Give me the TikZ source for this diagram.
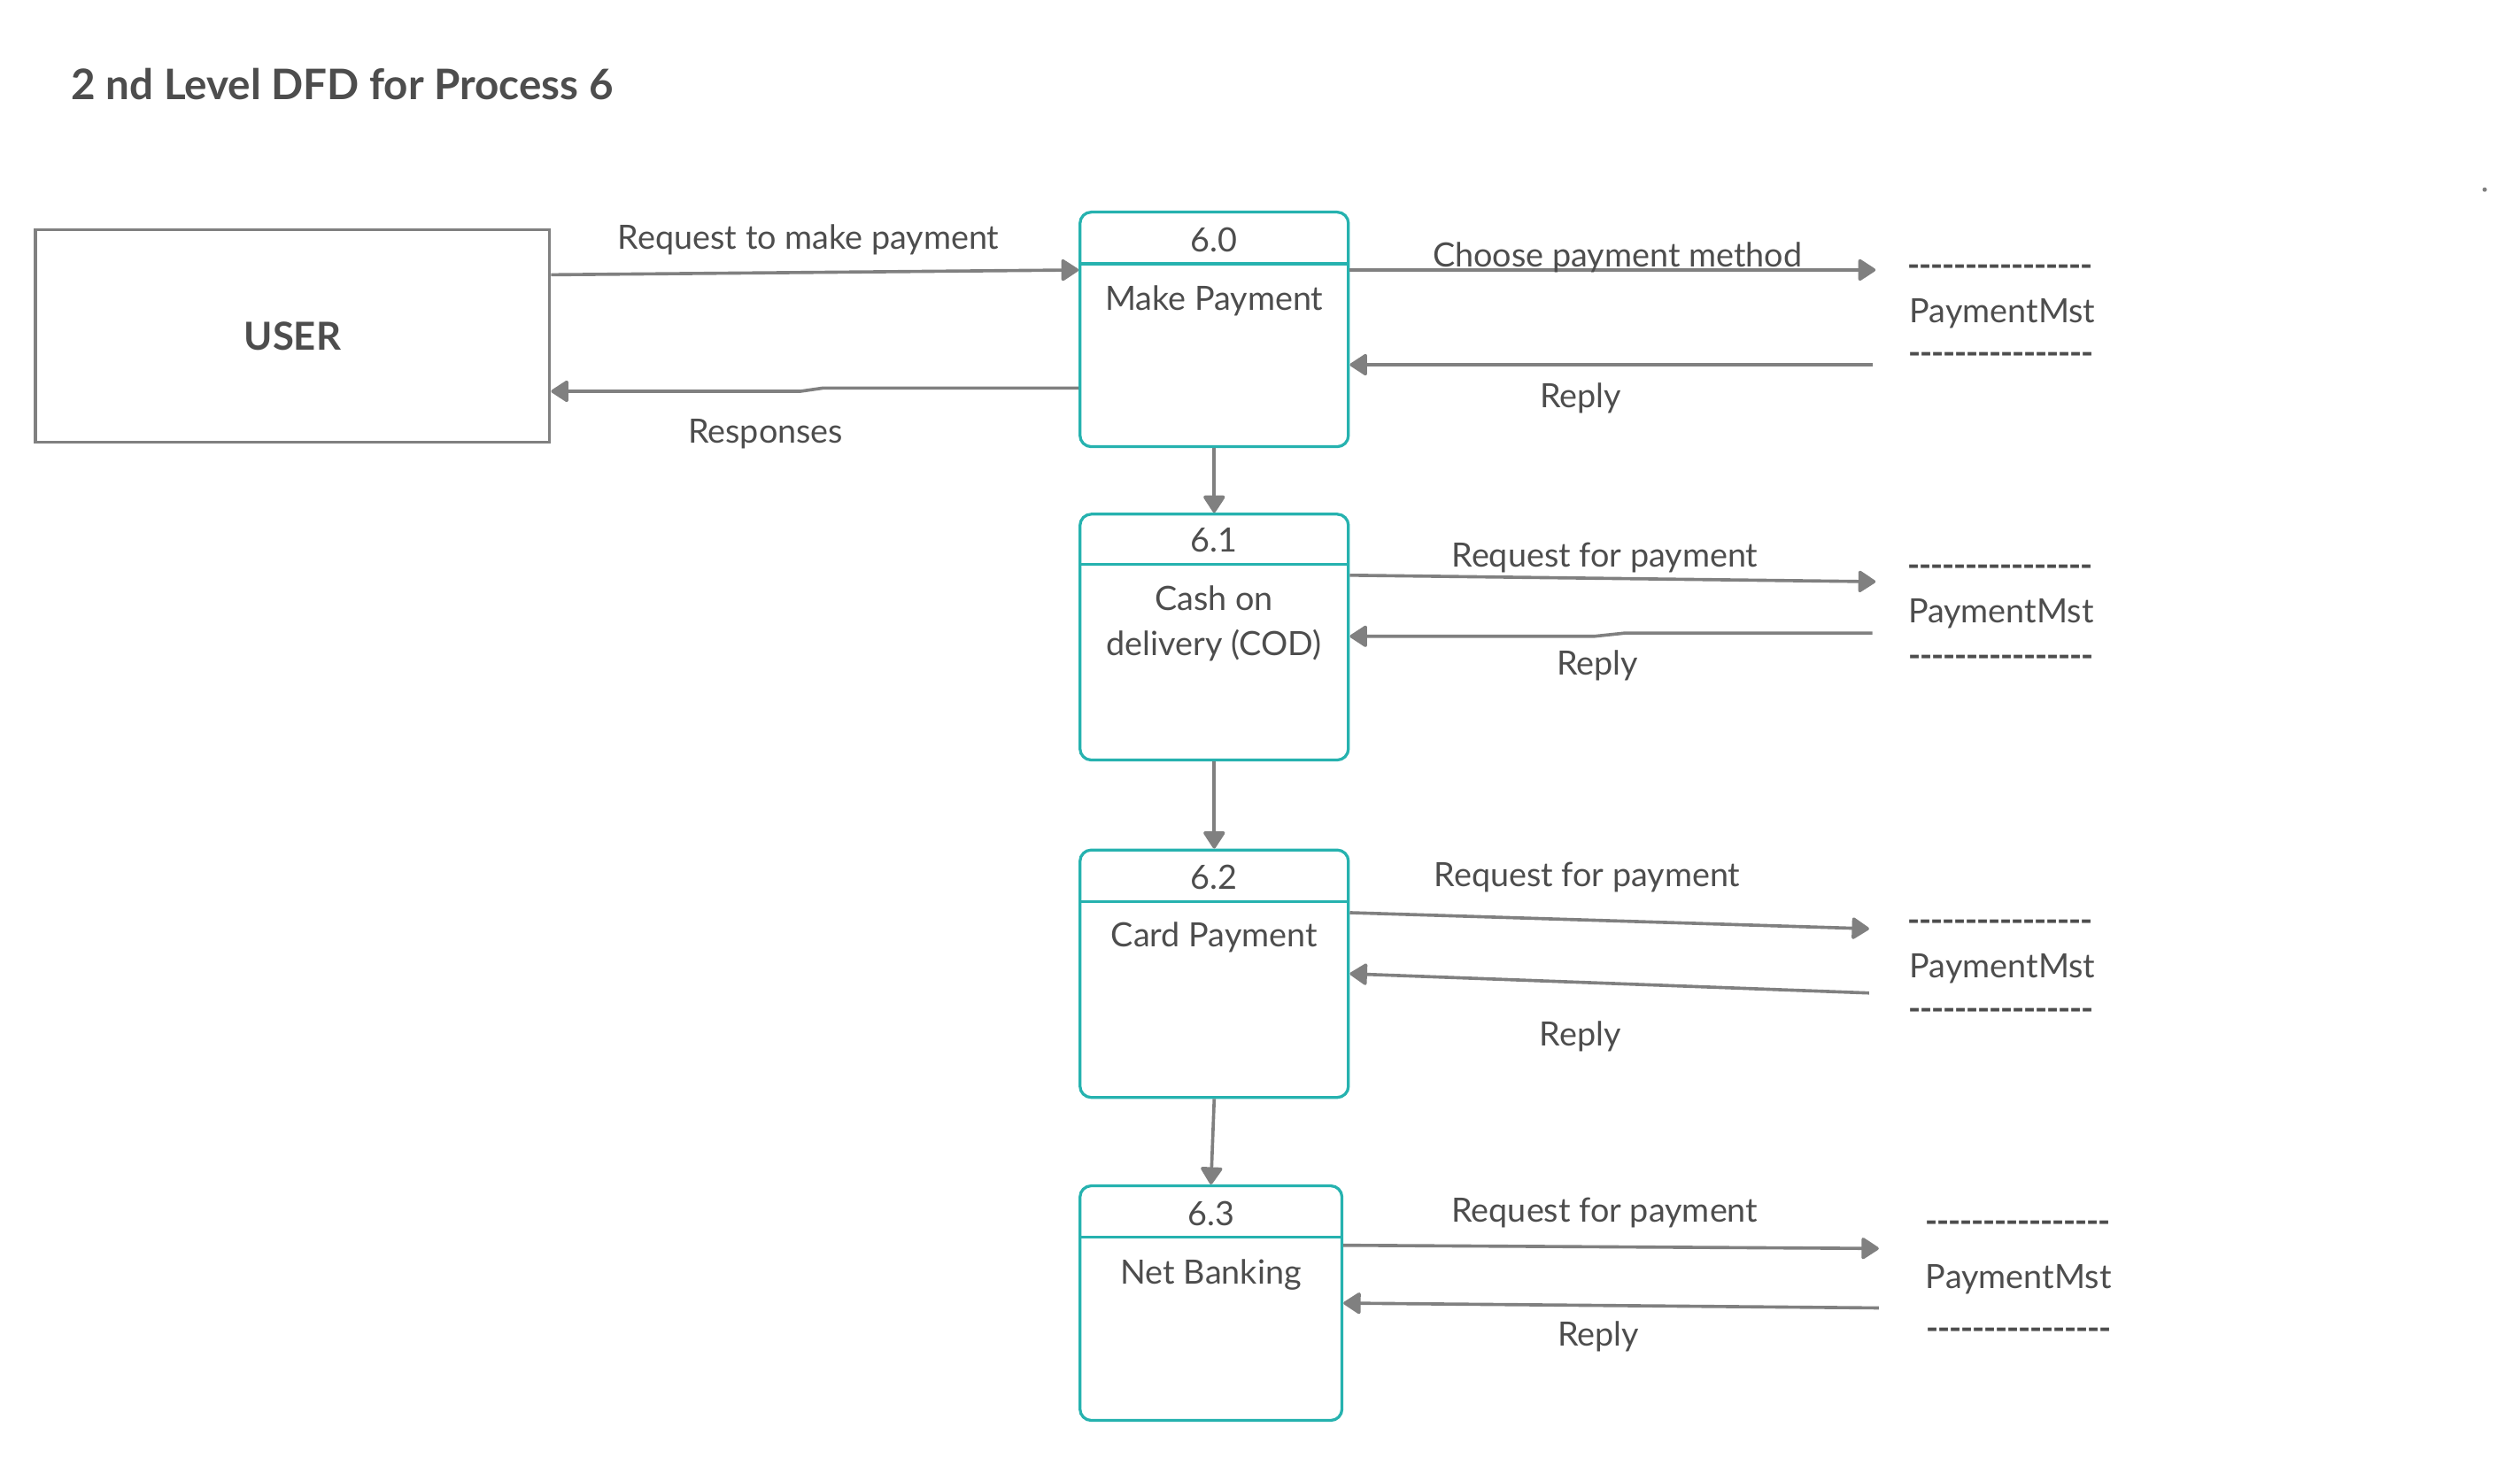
\documentclass[tikz,border=0pt]{standalone}
\usepackage{fontspec}
\setmainfont{Lato}
\usepackage{tikz}
\usetikzlibrary{arrows.meta,calc,positioning}

\definecolor{dfdteal}{RGB}{38,178,175}
\definecolor{dfdgray}{RGB}{128,128,128}
\definecolor{dfdtext}{RGB}{77,77,77}
\newcommand{\storedash}{{\bfseries\foreach \i in {1,...,16}{-\kern-0.3pt}}}

\begin{document}
\begin{tikzpicture}[x=0.5pt,y=-0.5pt,>={Triangle[length=5.8pt,width=7.3pt,round]}]
	\tikzstyle{process} = [draw=dfdteal, line width=0.9pt, rounded corners=3.5pt, minimum width=83.5pt]
	\tikzstyle{entity} = [draw=dfdgray, line width=0.9pt, text=dfdtext, inner sep=0pt, minimum width=160pt, minimum height=66pt]
	\tikzstyle{txt} = [text=dfdtext, inner sep=0pt, font=\fontsize{10.4}{14}\selectfont, yshift=-1pt]
	\tikzstyle{flow} = [draw=dfdgray, line width=1pt]
	\useasboundingbox (0,0) rectangle (1568,907);

	\node [txt, anchor=west, font=\fontsize{13.1}{15}\selectfont\bfseries] (title) at (44,50.5) {2 nd Level DFD for Process 6};

	% external entity
	\node [entity, font=\fontsize{12}{14}\selectfont\bfseries] (user) at (182,209) {USER};

	% processes
	\node [process, minimum height=73pt] (p60) at (755.5,205) {};
	\node [process, minimum height=76.5pt] (p61) at (755.5,396.5) {};
	\node [process, minimum height=77pt] (p62) at (755.5,606) {};
	\node [process, minimum height=73pt, minimum width=81.5pt] (p63) at (753.5,811) {};

	\draw [dfdteal, line width=0.9pt] ([yshift=-16.5pt]p60.north west) -- ([yshift=-16.5pt]p60.north east);
	\draw [dfdteal, line width=0.9pt] ([yshift=-16pt]p61.north west) -- ([yshift=-16pt]p61.north east);
	\draw [dfdteal, line width=0.9pt] ([yshift=-16.5pt]p62.north west) -- ([yshift=-16.5pt]p62.north east);
	\draw [dfdteal, line width=0.9pt] ([yshift=-16.5pt]p63.north west) -- ([yshift=-16.5pt]p63.north east);

	\node [txt] (n60) at ([yshift=-8pt]p60.north) {6.0};
	\node [txt] (n61) at ([yshift=-7.5pt]p61.north) {6.1};
	\node [txt] (n62) at ([yshift=-8pt]p62.north) {6.2};
	\node [txt] (n63) at ([yshift=-8pt]p63.north) {6.3};

	\node [txt] (t60) at ([yshift=-27pt]p60.north) {Make Payment};
	\node [txt, align=center] (t61) at ([yshift=-33.5pt]p61.north) {Cash on\\delivery (COD)};
	\node [txt] (t62) at ([yshift=-26.5pt]p62.north) {Card Payment};
	\node [txt] (t63) at ([yshift=-27pt]p63.north) {Net Banking};

	% data stores
	\node [txt] (pm0) at (1246,193) {PaymentMst};
	\node [txt] (pm0top) at (1244.5,166.3) {\storedash};
	\node [txt] (pm0bot) at (1245,221.3) {\storedash};
	\node [txt] (pm1) at (1245,380) {PaymentMst};
	\node [txt] (pm1top) at (1244.5,353.3) {\storedash};
	\node [txt] (pm1bot) at (1245,409.3) {\storedash};
	\node [txt] (pm2) at (1246,601) {PaymentMst};
	\node [txt] (pm2top) at (1244.5,574.3) {\storedash};
	\node [txt] (pm2bot) at (1245,629.3) {\storedash};
	\node [txt] (pm3) at (1256,794) {PaymentMst};
	\node [txt] (pm3top) at (1255.5,761.3) {\storedash};
	\node [txt] (pm3bot) at (1256,828.3) {\storedash};

	% free ends at the stores
	\node [coordinate] (s0out) at (1167,168) {};
	\node [coordinate] (s0in) at (1165,227) {};
	\node [coordinate] (s1out) at (1167,362) {};
	\node [coordinate] (s1in) at (1165,394) {};
	\node [coordinate] (s2out) at (1163,578) {};
	\node [coordinate] (s2in) at (1163,618) {};
	\node [coordinate] (s3out) at (1169,777) {};
	\node [coordinate] (s3in) at (1169,814) {};

	% flows user <-> 6.0
	\draw [flow, ->] ([yshift=19pt]user.east) --node[txt, pos=0.488, yshift=11.25pt]{Request to make payment} ([yshift=18.5pt]p60.west);
	\draw [flow, ->] ([yshift=-18.25pt]p60.west) -- ++(-159,0) -- ++(-14,2) --node[txt, pos=0.14, yshift=-12.25pt]{Responses} ([yshift=-17.25pt]user.east);

	% flows process -> process
	\draw [flow, ->] (p60.south) -- (p61.north);
	\draw [flow, ->] (p61.south) -- (p62.north);
	\draw [flow, ->] (p62.south) -- (p63.north);

	% flows process <-> store
	\draw [flow, ->] ([yshift=18.5pt]p60.east) --node[txt, pos=0.509, yshift=5pt]{Choose payment method} (s0out);
	\draw [flow, ->] (s0in) --node[txt, pos=0.558, yshift=-9.5pt]{Reply} ([yshift=-11pt]p60.east);

	\draw [flow, ->] ([yshift=19.25pt]p61.east) --node[txt, pos=0.485, yshift=7.5pt]{Request for payment} (s1out);
	\draw [flow, ->] (s1in) -- ++(-154,0) --node[txt, pos=0.895, yshift=-8.1pt]{Reply} ++(-19,2) -- ([yshift=0.25pt]p61.east);

	\draw [flow, ->] ([yshift=19pt]p62.east) --node[txt, pos=0.457, yshift=14.3pt]{Request for payment} (s2out);
	\draw [flow, ->] (s2in) --node[txt, pos=0.556, yshift=-15.85pt]{Reply} (p62.east);

	\draw [flow, ->] ([yshift=18pt]p63.east) --node[txt, pos=0.488, yshift=11.5pt]{Request for payment} (s3out);
	\draw [flow, ->] (s3in) --node[txt, pos=0.524, yshift=-8.8pt]{Reply} (p63.east);

	\fill [dfdgray] (1546,118) circle (0.7pt);
\end{tikzpicture}
\end{document}
